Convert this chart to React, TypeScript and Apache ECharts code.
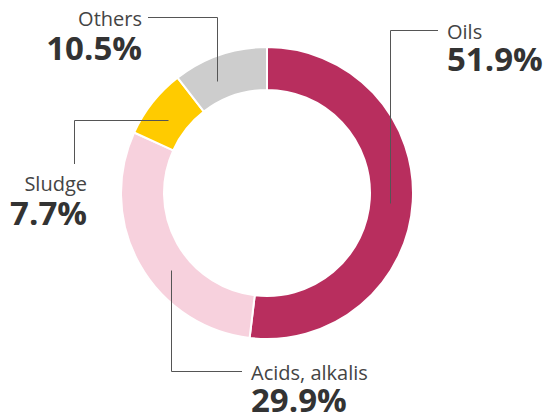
import React, { useEffect, useRef } from "react";
import * as echarts from "echarts";

const categories = ["Oils", "Acids, alkalis", "Sludge", "Others"];
const values = [51.9, 29.9, 7.7, 10.5];
const percentLabels = ["51.9%", "29.9%", "7.7%", "10.5%"];
const colors = ["#B82E5E", "#F7D1DD", "#FFCB00", "#CDCDCD"];

// layout of the annotations (not data)
const CENTER: [number, number] = [267, 193];
const RADII: [number, number] = [103, 146];
const ANCHOR_R = 123;
type Layout = {
  frac: number; // where inside the slice the leader line starts
  mode: "vh" | "hv";
  elbow: number; // y for vh, x for hv
  end: number; // x for vh, y for hv
  tx: number;
  nameY: number;
  pctY: number;
  align: "left" | "right";
};
const layouts: Layout[] = [
  { frac: 0.507, mode: "vh", elbow: 30, end: 438, tx: 447, nameY: 31, pctY: 58, align: "left" },
  { frac: 0.41, mode: "vh", elbow: 371, end: 242, tx: 251, nameY: 372, pctY: 399, align: "left" },
  { frac: 0.42, mode: "hv", elbow: 74, end: 164, tx: 87, nameY: 183, pctY: 212, align: "right" },
  { frac: 0.36, mode: "vh", elbow: 17, end: 148, tx: 142, nameY: 18, pctY: 47, align: "right" },
];

export default function App() {
  const ref = useRef<HTMLDivElement>(null);
  useEffect(() => {
    if (!ref.current) return;
    const chart = echarts.init(ref.current, undefined, { renderer: "svg" });
    const total = values.reduce((a, b) => a + b, 0);
    let cum = 0;
    const graphics: any[] = [];
    values.forEach((v, i) => {
      const L = layouts[i];
      const a0 = (cum / total) * 360;
      const a1 = ((cum + v) / total) * 360;
      cum += v;
      const ang = ((a0 + (a1 - a0) * L.frac) * Math.PI) / 180;
      const sx = Math.round(CENTER[0] + ANCHOR_R * Math.sin(ang)) + 0.5;
      const sy = Math.round(CENTER[1] - ANCHOR_R * Math.cos(ang)) + 0.5;
      let pts: number[][];
      if (L.mode === "vh") {
        pts = [[sx, sy], [sx, L.elbow + 0.5], [L.end, L.elbow + 0.5]];
      } else {
        pts = [[sx, sy], [L.elbow + 0.5, sy], [L.elbow + 0.5, L.end]];
      }
      graphics.push({
        type: "polyline",
        shape: { points: pts },
        style: { stroke: "#555555", lineWidth: 1, fill: "none" },
        silent: true,
        z: 10,
      });
      graphics.push({
        type: "text",
        x: L.tx,
        y: L.nameY,
        style: {
          text: categories[i],
          font: '20px "Open Sans"',
          lineHeight: 18,
          fill: "#444444",
          align: L.align,
          verticalAlign: "middle",
        },
        silent: true,
      });
      graphics.push({
        type: "text",
        x: L.tx,
        y: L.pctY,
        style: {
          text: percentLabels[i],
          font: 'bold 33px "Open Sans"',
          lineHeight: 26,
          fill: "#333333",
          align: L.align,
          verticalAlign: "middle",
        },
        silent: true,
      });
    });

    chart.setOption({
      animation: false,
      series: [
        {
          type: "pie",
          center: CENTER,
          radius: RADII,
          startAngle: 90,
          clockwise: true,
          label: { show: false },
          labelLine: { show: false },
          emphasis: { disabled: true },
          itemStyle: { borderColor: "#ffffff", borderWidth: 2 },
          data: categories.map((c, i) => ({
            name: c,
            value: values[i],
            itemStyle: { color: colors[i] },
          })),
        },
      ],
      graphic: graphics,
    });
    return () => chart.dispose();
  }, []);
  return (
    <div
      ref={ref}
      style={{ position: "fixed", left: 0, top: 0, width: 545, height: 414, background: "#fff" }}
    />
  );
}
